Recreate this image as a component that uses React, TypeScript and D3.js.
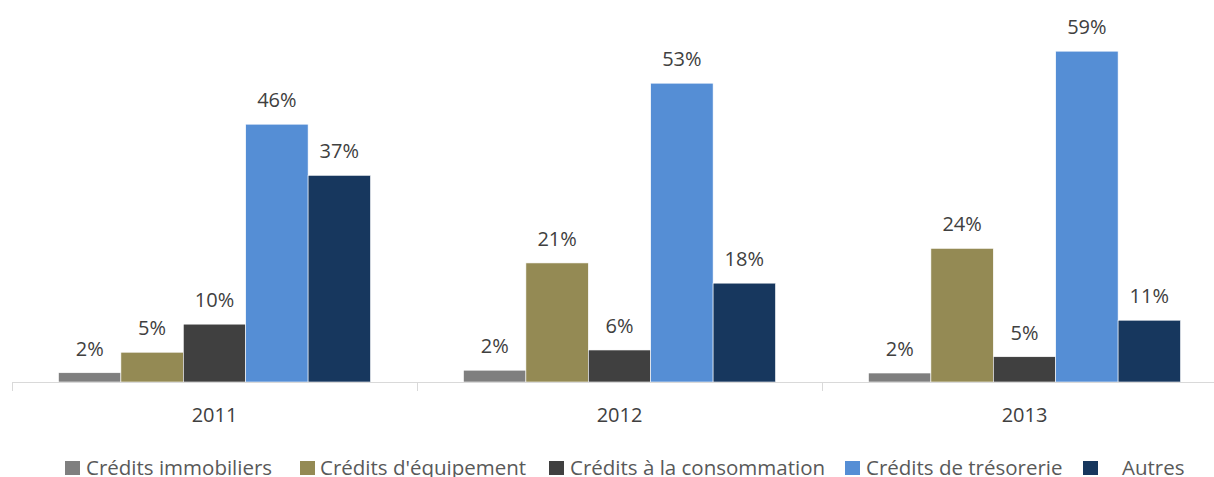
import * as d3 from "d3";
import React from "react";

const years = ["2011", "2012", "2013"];
const series = [
  "Crédits immobiliers",
  "Crédits d'équipement",
  "Crédits à la consommation",
  "Crédits de trésorerie",
  "Autres",
];
const colors = ["#7f7f7f", "#948a54", "#404040", "#558ed5", "#17375e"];

// shares in % per series, one entry per year
const immobiliers = [1.65, 2.1, 1.6];
const equipement = [5.3, 21.2, 23.8];
const consommation = [10.3, 5.7, 4.5];
const tresorerie = [45.9, 53.2, 58.9];
const autres = [36.8, 17.6, 11.0];
const labels = [
  ["2%", "2%", "2%"],
  ["5%", "21%", "24%"],
  ["10%", "6%", "5%"],
  ["46%", "53%", "59%"],
  ["37%", "18%", "11%"],
];

const values = [immobiliers, equipement, consommation, tresorerie, autres];

const W = 1214;
const H = 477;
const baseY = 382;
const FONT = "'Open Sans', sans-serif";

// legend layout (square x, text x)
const legendX = [65, 300, 549, 845, 1083];
const legendTextX = [86, 320, 570, 866, 1122];

const App = () => {
  const x0 = d3.scaleBand<string>().domain(years).range([12, 1227]).paddingInner(0);
  const x1 = d3
    .scaleBand<string>()
    .domain(series)
    .range([0, x0.bandwidth()])
    .paddingInner(0)
    .paddingOuter(0.745);
  const y = d3.scaleLinear().domain([0, 60]).range([baseY, 45]);

  const ticks = [...years.map((yr) => x0(yr) as number), 1227];

  return (
    <svg
      width={W}
      height={H}
      style={{ position: "absolute", left: 0, top: 0, display: "block", background: "#fff" }}
    >
      {/* bars */}
      {years.map((yr, i) => (
        <g key={yr} transform={`translate(${x0(yr)},0)`}>
          {series.map((s, j) => {
            const v = values[j][i];
            const bx = x1(s) as number;
            return (
              <g key={s}>
                <rect
                  x={bx}
                  y={y(v)}
                  width={x1.bandwidth()}
                  height={baseY - y(v)}
                  fill={colors[j]}
                  stroke="#fff"
                  strokeWidth={0.6}
                />
                <text
                  x={bx + x1.bandwidth() / 2}
                  y={y(v) - 17}
                  textAnchor="middle"
                  fontFamily={FONT}
                  fontSize={20}
                  fill="#404040"
                >
                  {labels[j][i]}
                </text>
              </g>
            );
          })}
          <text
            x={x0.bandwidth() / 2}
            y={422}
            textAnchor="middle"
            fontFamily={FONT}
            fontSize={20}
            fill="#404040"
          >
            {yr}
          </text>
        </g>
      ))}

      {/* axis */}
      <line x1={12} x2={W} y1={baseY + 0.5} y2={baseY + 0.5} stroke="#d9d9d9" strokeWidth={1} />
      {ticks.map((t, i) => (
        <line key={i} x1={t + 0.5} x2={t + 0.5} y1={baseY} y2={baseY + 9} stroke="#d9d9d9" strokeWidth={1} />
      ))}

      {/* legend */}
      {series.map((s, j) => (
        <g key={s}>
          <rect x={legendX[j]} y={461} width={15} height={14} fill={colors[j]} />
          <text
            x={legendTextX[j]}
            y={475}
            fontFamily={FONT}
            fontSize={20.5}
            fill="#595959"
          >
            {s}
          </text>
        </g>
      ))}
    </svg>
  );
};

export default App;
